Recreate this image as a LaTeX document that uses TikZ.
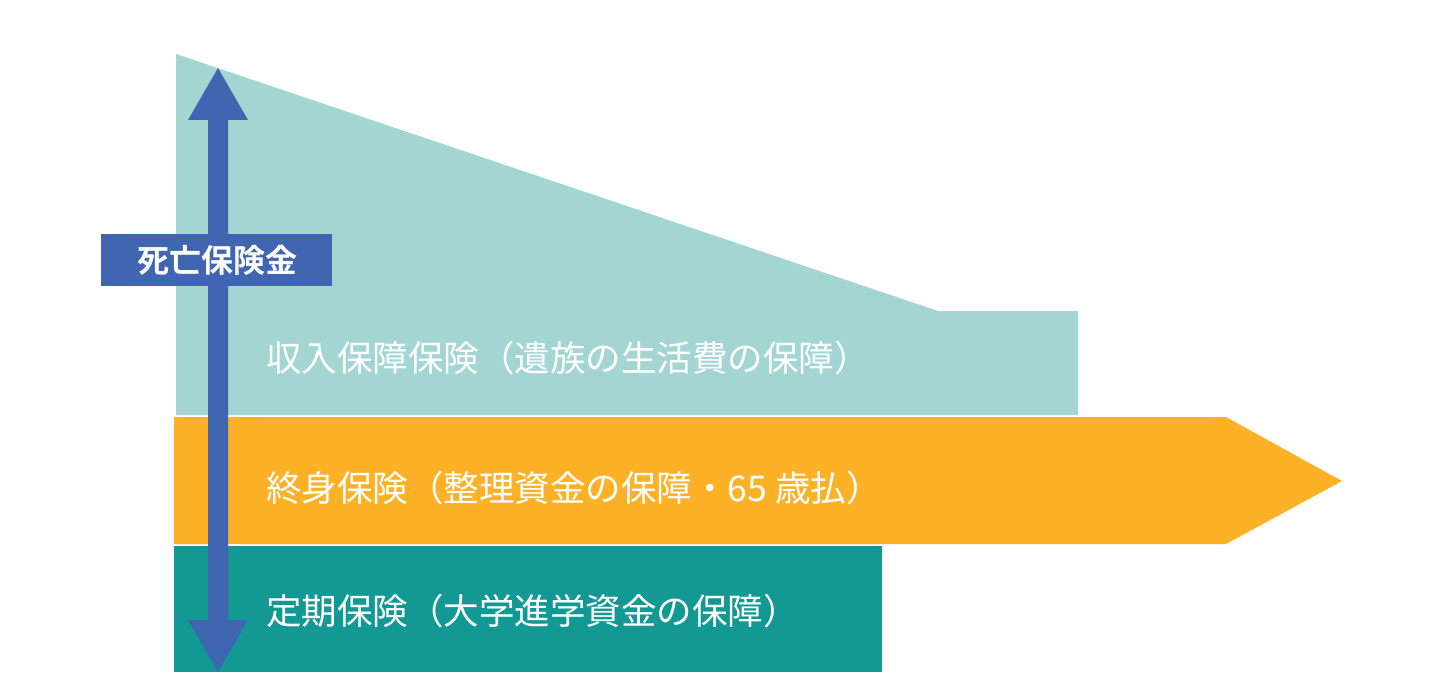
\documentclass[tikz,border=0pt]{standalone}
\usepackage{fontspec}
\newfontfamily\cjk{Noto Sans CJK JP}
\newfontfamily\cjkbold{Noto Sans CJK JP Bold}
\definecolor{lightteal}{HTML}{A3D6D3}
\definecolor{bandorange}{HTML}{FDB127}
\definecolor{darkteal}{HTML}{139993}
\definecolor{arrowblue}{HTML}{4065B1}
\begin{document}
\begin{tikzpicture}[x=1pt,y=-1pt,
  bandtext/.style={anchor=west,inner sep=0pt,text=white,font=\cjk\fontsize{35.5}{42}\selectfont},
  labeltext/.style={inner sep=0pt,text=white,font=\cjkbold\fontsize{32}{38}\selectfont}]
\useasboundingbox[fill=white] (0,0) rectangle (1444,690);
% light teal: income protection
\fill[lightteal] (176,54) -- (938,311) -- (1078,311) -- (1078,415) -- (176,415) -- cycle;
% orange: whole life
\fill[bandorange] (174,417) -- (1226,417) -- (1342,481) -- (1226,544) -- (174,544) -- cycle;
% dark teal: term
\fill[darkteal] (174,546) rectangle (882,672);
% double arrow
\fill[arrowblue] (218,68) -- (248,120) -- (228,120) -- (228,620) -- (248,620) -- (218,672)
  -- (188,620) -- (208,620) -- (208,120) -- (188,120) -- cycle;
% label box
\fill[arrowblue] (101,234) rectangle (332,286);
\node[labeltext] (lbl) at (217,260) {死亡保険金};
% band texts
\node[bandtext] (t1) at (266,358) {収入保障保険（遺族の生活費の保障）};
\node[bandtext] (t2) at (266,488) {終身保険（整理資金の保障・65 歳払）};
\node[bandtext] (t3) at (266,611) {定期保険（大学進学資金の保障）};
\end{tikzpicture}
\end{document}
